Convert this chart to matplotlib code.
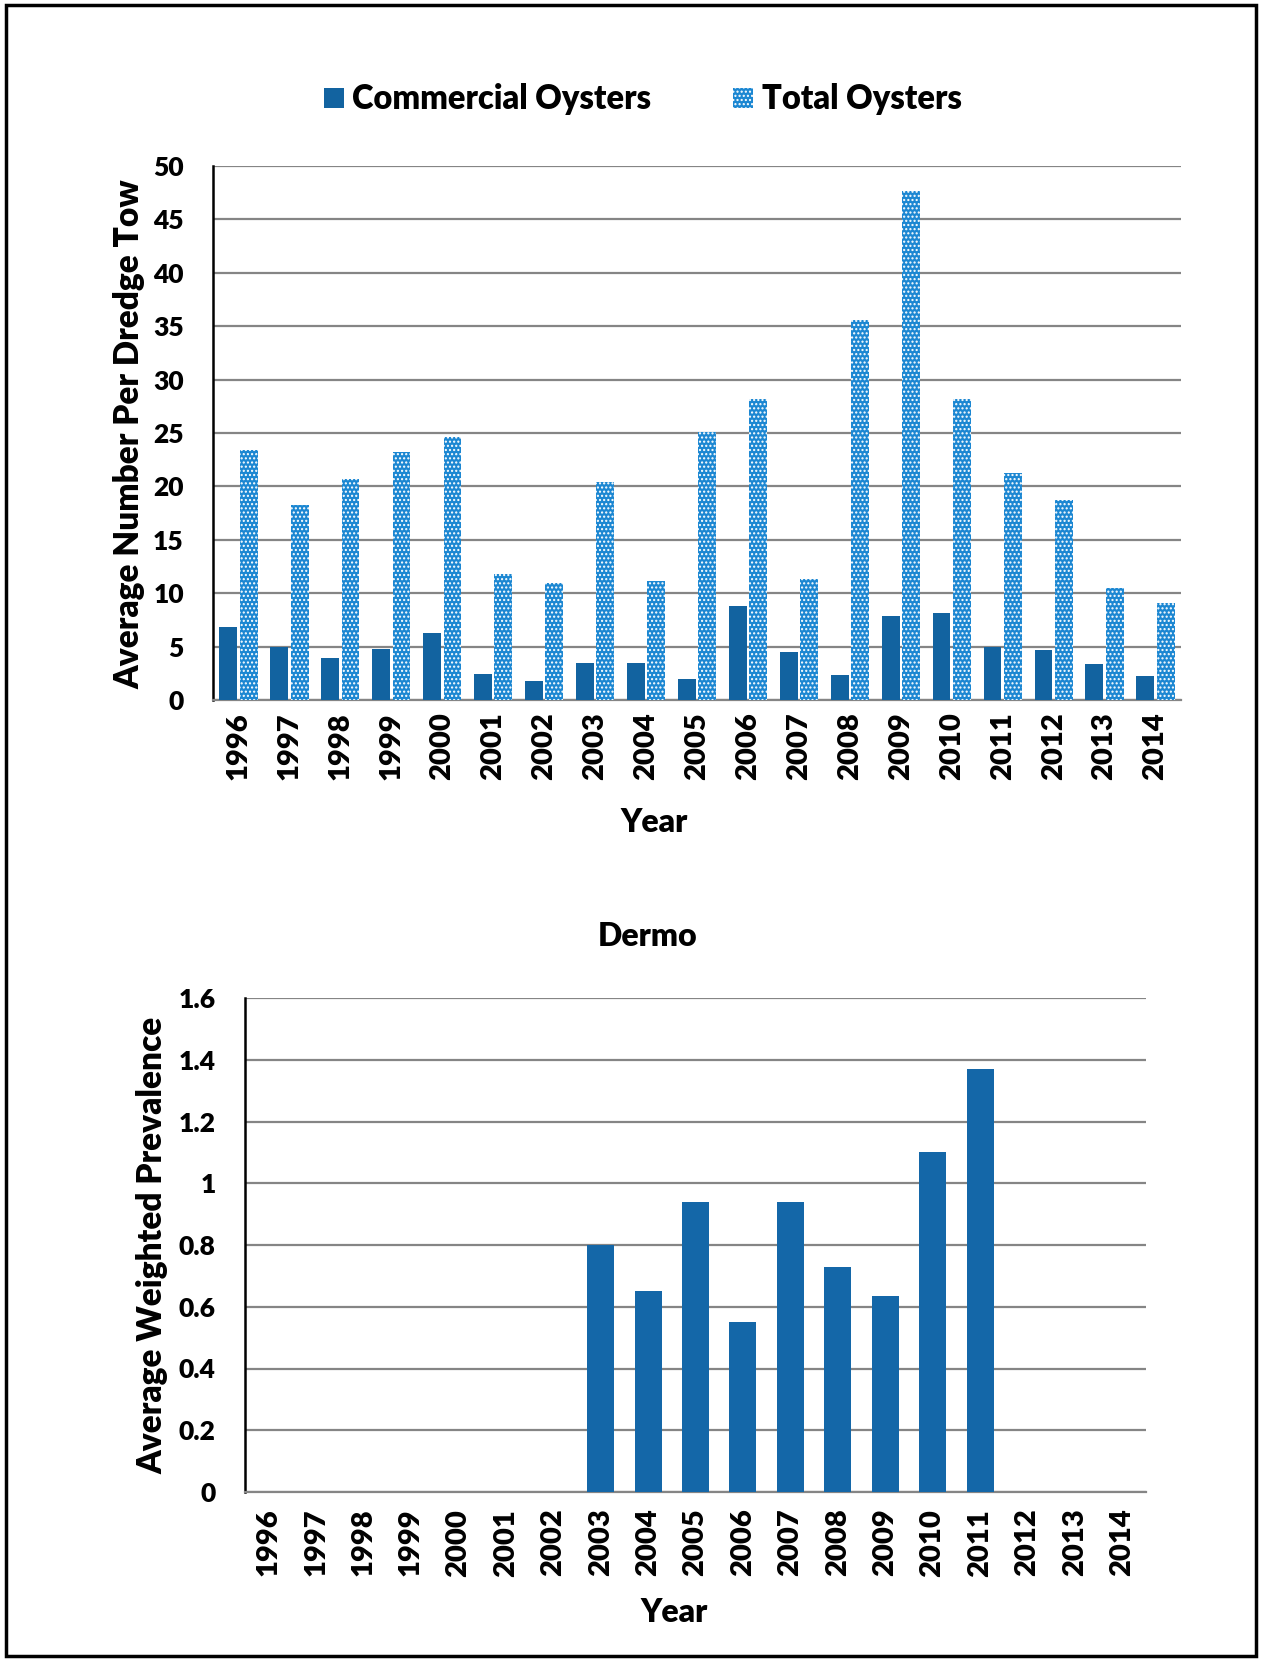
import matplotlib
matplotlib.use("Agg")
import matplotlib.pyplot as plt
import matplotlib.patches as mpatches
import numpy as np

plt.rcParams['font.family'] = ['Lato', 'DejaVu Sans']
plt.rcParams['font.weight'] = 'heavy'
plt.rcParams['hatch.linewidth'] = 1.0

years = [str(y) for y in range(1996, 2015)]
commercial = [6.8, 5.0, 3.9, 4.75, 6.3, 2.4, 1.8, 3.45, 3.45, 2.0, 8.8, 4.5, 2.3, 7.9, 8.1, 4.95, 4.7, 3.4, 2.25]
total = [23.4, 18.3, 20.7, 23.2, 24.6, 11.8, 11.0, 20.4, 11.1, 25.1, 28.2, 11.3, 35.6, 47.7, 28.2, 21.3, 18.75, 10.5, 9.1]
dermo_years = ['2003', '2004', '2005', '2006', '2007', '2008', '2009', '2010', '2011']
dermo = [0.80, 0.65, 0.94, 0.55, 0.94, 0.73, 0.635, 1.10, 1.37]
dermo_ticks = [0, 0.2, 0.4, 0.6, 0.8, 1, 1.2, 1.4, 1.6]
dermo_ticklabels = ['0', '0.2', '0.4', '0.6', '0.8', '1', '1.2', '1.4', '1.6']
legend_labels = ['Commercial Oysters', 'Total Oysters']

c_dark = '#1263a0'
c_light = '#1c87d2'
c_dermo = '#1467a8'
grid_c = '#858585'
FW = 'heavy'

W, H = 1262, 1661
fig = plt.figure(figsize=(W / 100, H / 100), dpi=100)

def fx(px):
    return px / W

def fy(py):
    return 1 - py / H

# border
fig.patches.append(mpatches.Rectangle((6 / W, 5 / H), (W - 12) / W, (H - 10) / H,
                                      transform=fig.transFigure, fill=False,
                                      edgecolor='black', linewidth=2.5))

# ---------- top chart ----------
ax1 = fig.add_axes([fx(213), fy(700), (1181 - 213) / W, (700 - 166) / H])
x = np.arange(len(years))
ax1.bar(x - 0.2, commercial, width=0.35, color=c_dark, linewidth=0, zorder=3)
ax1.bar(x + 0.2, total, width=0.35, color=c_light, edgecolor='white', hatch='....',
        linewidth=0, zorder=3)
ax1.set_xlim(-0.5, len(years) - 0.5)
ax1.set_ylim(0, 50)
ax1.set_yticks(np.arange(0, 51, 5))
ax1.yaxis.grid(True, color=grid_c, linewidth=1.6, zorder=0)
ax1.set_axisbelow(True)
ax1.set_xticks(x)
ax1.set_xticklabels(years, rotation=90, fontsize=21, fontweight=FW)
for t in ax1.get_yticklabels():
    t.set_fontweight(FW)
ax1.tick_params(axis='y', labelsize=19, length=0, pad=21)
ax1.tick_params(axis='x', length=0, pad=9)
for s in ['top', 'right']:
    ax1.spines[s].set_visible(False)
ax1.spines['left'].set_color('black')
ax1.spines['left'].set_linewidth(1.8)
ax1.spines['bottom'].set_color(grid_c)
ax1.spines['bottom'].set_linewidth(1.6)
fig.text(fx(129), fy(434), 'Average Number Per Dredge Tow', rotation=90,
         ha='center', va='center', fontsize=24, fontweight=FW)
fig.text(fx(654), fy(823), 'Year', ha='center', va='center', fontsize=23, fontweight=FW)

# legend (manual placement)
fig.patches.append(mpatches.Rectangle((fx(324), fy(108)), 20 / W, 20 / H,
                                      transform=fig.transFigure, facecolor=c_dark,
                                      linewidth=0))
fig.patches.append(mpatches.Rectangle((fx(733), fy(108)), 20 / W, 20 / H,
                                      transform=fig.transFigure, facecolor=c_light,
                                      edgecolor='white', hatch='....', linewidth=0))
fig.text(fx(352), fy(99), legend_labels[0], ha='left', va='center', fontsize=23.5, fontweight=FW)
fig.text(fx(762), fy(99), legend_labels[1], ha='left', va='center', fontsize=23.5, fontweight=FW)

# ---------- bottom chart ----------
ax2 = fig.add_axes([fx(245), fy(1492), (1146 - 245) / W, (1492 - 998) / H])
xd = [years.index(y) for y in dermo_years]
ax2.bar(xd, dermo, width=0.57, color=c_dermo, linewidth=0, zorder=3)
ax2.set_xlim(-0.5, len(years) - 0.5)
ax2.set_ylim(0, 1.6)
ax2.set_yticks(dermo_ticks)
ax2.set_yticklabels(dermo_ticklabels, fontweight=FW)
ax2.yaxis.grid(True, color=grid_c, linewidth=1.6, zorder=0)
ax2.set_axisbelow(True)
ax2.set_xticks(np.arange(len(years)))
ax2.set_xticklabels(years, rotation=90, fontsize=21, fontweight=FW)
ax2.tick_params(axis='y', labelsize=19, length=0, pad=21)
ax2.tick_params(axis='x', length=0, pad=12)
for s in ['top', 'right']:
    ax2.spines[s].set_visible(False)
ax2.spines['left'].set_color('black')
ax2.spines['left'].set_linewidth(1.8)
ax2.spines['bottom'].set_color(grid_c)
ax2.spines['bottom'].set_linewidth(1.6)
fig.text(fx(152), fy(1245), 'Average Weighted Prevalence', rotation=90,
         ha='center', va='center', fontsize=24, fontweight=FW)
fig.text(fx(674), fy(1612), 'Year', ha='center', va='center', fontsize=23, fontweight=FW)
fig.text(fx(648), fy(937), 'Dermo', ha='center', va='center', fontsize=23, fontweight=FW)

fig.savefig('out.png', dpi=100, facecolor='white')
